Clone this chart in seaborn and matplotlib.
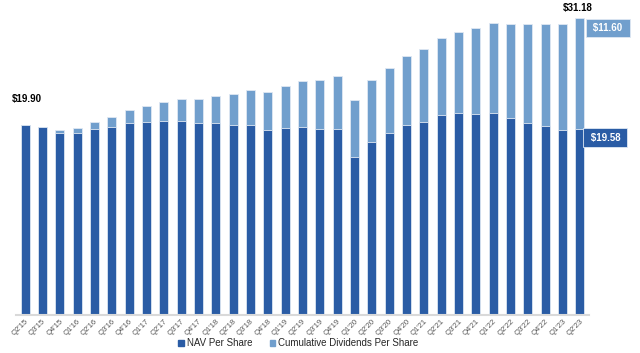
import pandas as pd
import seaborn as sns
import matplotlib.pyplot as plt
from matplotlib.patches import Patch

# --- datos ---
quarters = ["Q2'15", "Q3'15", "Q4'15", "Q1'16", "Q2'16", "Q3'16", "Q4'16",
            "Q1'17", "Q2'17", "Q3'17", "Q4'17", "Q1'18", "Q2'18", "Q3'18",
            "Q4'18", "Q1'19", "Q2'19", "Q3'19", "Q4'19", "Q1'20", "Q2'20",
            "Q3'20", "Q4'20", "Q1'21", "Q2'21", "Q3'21", "Q4'21", "Q1'22",
            "Q2'22", "Q3'22", "Q4'22", "Q1'23", "Q2'23"]
nav = [19.90, 19.79, 19.16, 19.16, 19.50, 19.74, 20.13, 20.29, 20.40, 20.40,
       20.13, 20.13, 19.95, 19.95, 19.42, 19.65, 19.79, 19.50, 19.50, 16.54,
       18.13, 19.09, 19.92, 20.26, 20.97, 21.18, 21.10, 21.18, 20.68, 20.16,
       19.84, 19.42, 19.58]
cum_div = [0.00, 0.00, 0.23, 0.50, 0.73, 1.02, 1.36, 1.68, 1.96, 2.25,
           2.52, 2.81, 3.22, 3.64, 4.02, 4.42, 4.80, 5.21, 5.64, 6.08,
           6.49, 6.89, 7.25, 7.69, 8.11, 8.50, 9.00, 9.44, 9.90, 10.36,
           10.74, 11.13, 11.60]

COLOR_NAV = "#2A5CA5"
COLOR_DIV = "#719FCD"
EDGE = "#dfe8f3"

df = pd.DataFrame({"quarter": quarters, "nav": nav, "div": cum_div})
df["total"] = df["nav"] + df["div"]

sns.set_theme(style="white")
plt.rcParams["font.family"] = ["Liberation Sans", "DejaVu Sans"]

fig = plt.figure(figsize=(6.4, 3.53), dpi=100)
ax = fig.add_axes([0.025, 0.1076, 0.895, 0.8924])

sns.barplot(data=df, x="quarter", y="total", color=COLOR_DIV, width=0.52,
            edgecolor=EDGE, linewidth=0.6, saturation=1, ax=ax)
sns.barplot(data=df, x="quarter", y="nav", color=COLOR_NAV, width=0.52,
            edgecolor=EDGE, linewidth=0.6, saturation=1, ax=ax)

ax.set_xlim(-0.52, len(quarters) - 0.48)
ax.set_ylim(0, 33.07)
ax.set_xlabel("")
ax.set_ylabel("")
ax.set_yticks([])
for s in ["top", "right", "left"]:
    ax.spines[s].set_visible(False)
ax.spines["bottom"].set_color("#d9d9d9")
ax.spines["bottom"].set_linewidth(1.5)
ax.tick_params(axis="x", length=0, pad=2)
plt.setp(ax.get_xticklabels(), rotation=45, ha="right", rotation_mode="anchor",
         fontsize=5.5, color="#555555")

last = len(quarters) - 1
ax.annotate(f"${df['total'].iloc[0]:.2f}", (0, df["total"].iloc[0]),
            xytext=(2, 21), textcoords="offset pixels", ha="center",
            va="bottom", fontsize=7, fontweight="bold", color="black")
ax.annotate(f"${df['total'].iloc[last]:.2f}", (last, df["total"].iloc[last]),
            xytext=(-2, 5), textcoords="offset pixels", ha="center",
            va="bottom", fontsize=7, fontweight="bold", color="black")

# cajas a la derecha
ax.annotate(f" ${cum_div[last]:.2f} ", (last, df["total"].iloc[last]),
            xytext=(28, -10), textcoords="offset pixels", ha="center",
            va="center", fontsize=7, fontweight="bold", color="white",
            annotation_clip=False,
            bbox=dict(boxstyle="square,pad=0.45", fc=COLOR_DIV, ec=EDGE, lw=0.6))
ax.annotate(f" ${nav[last]:.2f} ", (last, nav[last]),
            xytext=(25.5, -9), textcoords="offset pixels", ha="center",
            va="center", fontsize=7, fontweight="bold", color="white",
            annotation_clip=False,
            bbox=dict(boxstyle="square,pad=0.45", fc=COLOR_NAV, ec=EDGE, lw=0.6))

handles = [Patch(color=COLOR_NAV, label="NAV Per Share"),
           Patch(color=COLOR_DIV, label="Cumulative Dividends Per Share")]
fig.legend(handles=handles, loc="center", bbox_to_anchor=(0.466, 0.028), ncol=2,
           frameon=False, fontsize=7, handlelength=0.6, handleheight=0.6,
           handletextpad=0.3, columnspacing=1.8, borderpad=0)

fig.savefig("out.png", dpi=100)
